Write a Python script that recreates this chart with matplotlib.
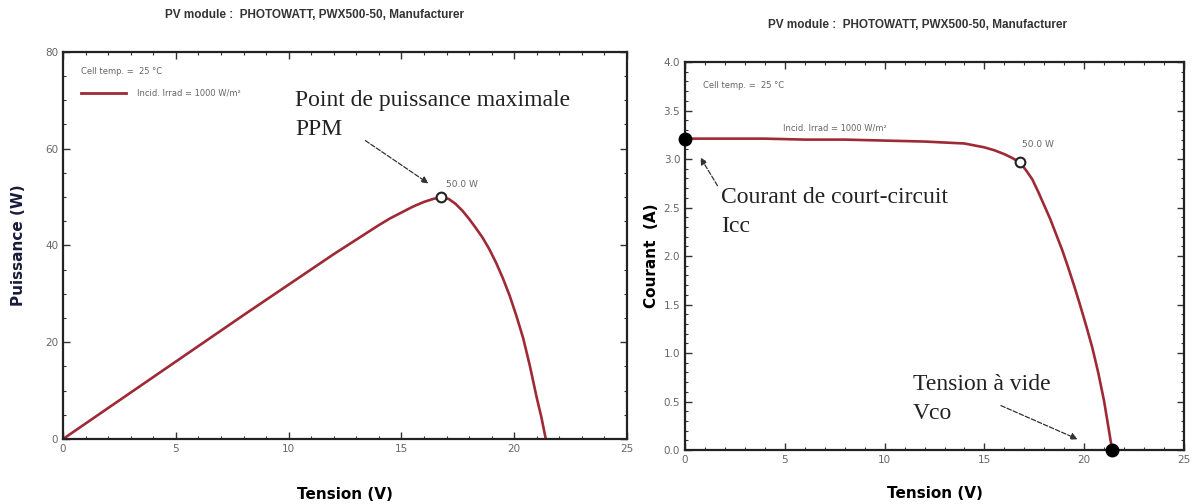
import matplotlib
matplotlib.use("Agg")
import matplotlib.pyplot as plt
from matplotlib.ticker import MultipleLocator, FormatStrFormatter

# ---- data ----
v_p = [0, 2, 4, 6, 8, 10, 12, 14, 14.5, 15, 15.5, 16, 16.4, 16.76, 17.1, 17.4, 17.7,
       18, 18.3, 18.6, 18.9, 19.2, 19.5, 19.8, 20.1, 20.4, 20.7, 21.0, 21.2, 21.4]
p_w = [0, 6.4, 12.8, 19.2, 25.6, 31.9, 38.2, 44.2, 45.6, 46.8, 48.0, 49.0, 49.6, 50.0, 49.6,
       48.6, 47.2, 45.5, 43.6, 41.6, 39.2, 36.4, 33.2, 29.6, 25.4, 20.8, 15.0, 8.5, 4.6, 0]

v_i = [0, 2, 4, 6, 8, 10, 12, 13, 14, 14.5, 15, 15.5, 16, 16.4, 16.8, 17.1, 17.4, 17.7,
       18, 18.3, 18.6, 18.9, 19.2, 19.5, 19.8, 20.1, 20.4, 20.7, 21.0, 21.2, 21.4]
i_a = [3.21, 3.21, 3.21, 3.20, 3.20, 3.19, 3.18, 3.17, 3.16, 3.14, 3.12, 3.09, 3.05, 3.01,
       2.96, 2.88, 2.79, 2.66, 2.52, 2.38, 2.22, 2.06, 1.88, 1.69, 1.49, 1.28, 1.06, 0.80,
       0.50, 0.25, 0.0]

mpp_v, mpp_p, mpp_i = 16.76, 50.0, 2.97
isc_v, isc_i = 0.0, 3.21
voc_v, voc_i = 21.4, 0.0

title_txt = "PV module :  PHOTOWATT, PWX500-50, Manufacturer"
red = "#9e2a36"
grey = "#666666"

fig = plt.figure(figsize=(11.92, 5.04), dpi=100)

def style(ax):
    for s in ax.spines.values():
        s.set_linewidth(1.6)
        s.set_color("#222222")
    ax.tick_params(which="both", direction="in", top=True, right=True,
                   colors="#333333", labelcolor=grey, labelsize=7.5)
    ax.tick_params(which="major", length=5, width=1)
    ax.tick_params(which="minor", length=2.5, width=0.8)

# ---------- left: P-V ----------
ax1 = fig.add_axes([0.0529, 0.129, 0.4731, 0.768])
ax1.plot(v_p, p_w, color=red, lw=1.9)
ax1.plot([mpp_v], [mpp_p], "o", ms=7, mfc="white", mec="#222222", mew=1.5)
ax1.set_xlim(0, 25)
ax1.set_ylim(0, 80)
ax1.xaxis.set_major_locator(MultipleLocator(5))
ax1.xaxis.set_minor_locator(MultipleLocator(1))
ax1.yaxis.set_major_locator(MultipleLocator(20))
ax1.yaxis.set_minor_locator(MultipleLocator(5))
style(ax1)
ax1.set_xlabel("Tension (V)", fontsize=11, fontweight="bold", labelpad=24)
ax1.set_ylabel("Puissance (W)", fontsize=11, fontweight="bold", color="#1a1a3a", labelpad=14)
ax1.text(mpp_v + 0.2, mpp_p + 2, "50.0 W", fontsize=6.5, color=grey)
ax1.text(0.8, 76, "Cell temp. =  25 °C", fontsize=6, color=grey, va="center")
ax1.plot([0.8, 2.8], [71.5, 71.5], color=red, lw=2)
ax1.text(3.3, 71.5, "Incid. Irrad = 1000 W/m²", fontsize=6, color=grey, va="center")
ax1.text(10.3, 67, "Point de puissance maximale\nPPM", fontsize=17, family="Liberation Serif",
         color="#222222", va="center", linespacing=1.5)
ax1.annotate("", xy=(16.3, 52.5), xytext=(13.3, 62.0),
             arrowprops=dict(arrowstyle="-|>", ls="--", lw=0.9, color="#333333"))

# ---------- right: I-V ----------
ax2 = fig.add_axes([0.5747, 0.107, 0.4186, 0.770])
ax2.plot(v_i, i_a, color=red, lw=1.9)
ax2.plot([mpp_v], [mpp_i], "o", ms=7, mfc="white", mec="#222222", mew=1.5)
ax2.plot([isc_v], [isc_i], "o", ms=9, color="black", clip_on=False, zorder=5)
ax2.plot([voc_v], [voc_i], "o", ms=9, color="black", clip_on=False, zorder=5)
ax2.set_xlim(0, 25)
ax2.set_ylim(0, 4)
ax2.xaxis.set_major_locator(MultipleLocator(5))
ax2.xaxis.set_minor_locator(MultipleLocator(1))
ax2.yaxis.set_major_locator(MultipleLocator(0.5))
ax2.yaxis.set_minor_locator(MultipleLocator(0.1))
ax2.yaxis.set_major_formatter(FormatStrFormatter("%.1f"))
style(ax2)
ax2.set_xlabel("Tension (V)", fontsize=11, fontweight="bold", labelpad=15)
ax2.set_ylabel("Courant  (A)", fontsize=11, fontweight="bold", labelpad=3)
ax2.text(mpp_v + 0.1, mpp_i + 0.15, "50.0 W", fontsize=6.5, color=grey)
ax2.text(0.9, 3.76, "Cell temp. =  25 °C", fontsize=6, color=grey, va="center")
ax2.text(4.9, 3.32, "Incid. Irrad = 1000 W/m²", fontsize=6, color=grey, va="center")
ax2.text(1.8, 2.45, "Courant de court-circuit\nIcc", fontsize=17, family="Liberation Serif",
         color="#222222", va="center", linespacing=1.5)
ax2.annotate("", xy=(0.7, 3.04), xytext=(1.7, 2.7),
             arrowprops=dict(arrowstyle="-|>", ls="--", lw=0.9, color="#333333"))
ax2.text(11.4, 0.53, "Tension à vide\nVco", fontsize=17, family="Liberation Serif",
         color="#222222", va="center", linespacing=1.5)
ax2.annotate("", xy=(19.8, 0.1), xytext=(15.7, 0.47),
             arrowprops=dict(arrowstyle="-|>", ls="--", lw=0.9, color="#333333"))

fig.text(0.264, 0.970, title_txt, fontsize=8.5, fontweight="bold", color="#333333",
         ha="center", va="center", family="Liberation Sans")
fig.text(0.770, 0.950, title_txt, fontsize=8.5, fontweight="bold", color="#333333",
         ha="center", va="center", family="Liberation Sans")

fig.savefig("out.png", dpi=100)
